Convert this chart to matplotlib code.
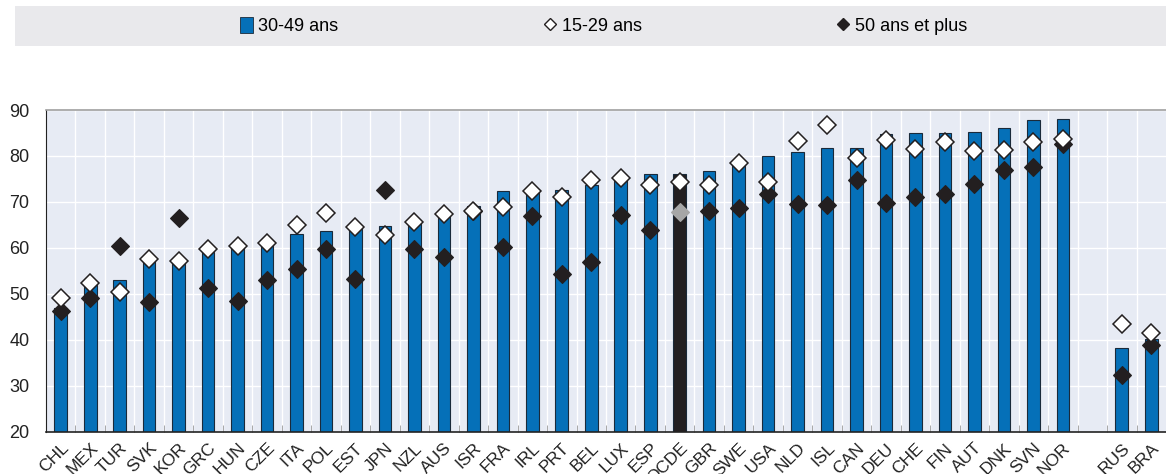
import numpy as np
import matplotlib
matplotlib.use('Agg')
import matplotlib.pyplot as plt
from matplotlib.lines import Line2D
from matplotlib.patches import Rectangle, Patch

plt.rcParams['font.family'] = ['Liberation Sans Narrow', 'Liberation Sans', 'DejaVu Sans']

countries = ['CHL', 'MEX', 'TUR', 'SVK', 'KOR', 'GRC', 'HUN', 'CZE', 'ITA', 'POL',
             'EST', 'JPN', 'NZL', 'AUS', 'ISR', 'FRA', 'IRL', 'PRT', 'BEL', 'LUX',
             'ESP', 'OCDE', 'GBR', 'SWE', 'USA', 'NLD', 'ISL', 'CAN', 'DEU', 'CHE',
             'FIN', 'AUT', 'DNK', 'SVN', 'NOR', '', 'RUS', 'BRA']
age_30_49 = [47.0, 52.0, 53.1, 57.6, 57.1, 59.2, 59.9, 60.8, 63.1, 63.8,
             64.4, 64.7, 65.5, 67.3, 69.1, 72.3, 72.7, 72.7, 73.8, 75.2,
             76.0, 76.0, 76.7, 78.2, 79.9, 80.8, 81.8, 81.8, 84.8, 84.9,
             85.1, 85.2, 86.0, 87.9, 88.1, np.nan, 38.3, 40.3]
age_15_29 = [49.2, 52.4, 50.4, 57.7, 57.2, 59.7, 60.5, 61.0, 65.1, 67.6,
             64.5, 62.9, 65.6, 67.4, 68.0, 69.0, 72.5, 71.1, 74.8, 75.2,
             73.8, 74.4, 73.6, 78.4, 74.3, 83.3, 86.8, 79.6, 83.4, 81.5,
             83.0, 81.0, 81.4, 83.1, 83.7, np.nan, 43.5, 41.6]
age_50_plus = [46.4, 49.2, 60.5, 48.2, 66.6, 51.2, 48.4, 53.1, 55.4, 59.8,
               53.2, 72.7, 59.7, 58.1, 68.0, 60.3, 66.9, 54.4, 56.9, 67.2,
               63.9, 67.9, 68.0, 68.8, 71.8, 69.6, 69.3, 74.8, 69.8, 71.1,
               71.8, 73.9, 76.9, 77.7, 82.7, np.nan, 32.3, 38.9]

BLUE = '#0570b8'
x = np.arange(len(countries))
oecd = countries.index('OCDE')
bar_colors = [BLUE] * len(countries)
bar_colors[oecd] = '#231f20'
old_colors = ['#231f20'] * len(countries)
old_colors[oecd] = '#a6a6a6'

fig = plt.figure(figsize=(11.66, 4.74), dpi=100)
ax = fig.add_axes([46 / 1166, 42 / 474, 1 - 46 / 1166, 322 / 474])

# legend band
fig.patches.append(Rectangle((15 / 1166, 1 - 46 / 474), 1 - 15 / 1166, 40 / 474,
                             transform=fig.transFigure, facecolor='#e9e9ec',
                             edgecolor='none', zorder=0))

ax.set_facecolor('#e7ebf4')
ax.bar(x, np.nan_to_num(age_30_49, nan=0), width=0.43, color=bar_colors,
       edgecolor='#1a2a3a', linewidth=0.8, zorder=2)
for xi, v, c in zip(x, age_50_plus, old_colors):
    ax.plot(xi, v, 'D', ms=9.5, mfc=c, mec='#231f20' if c != '#a6a6a6' else '#a6a6a6',
            mew=0.8, zorder=3)
ax.plot(x, age_15_29, 'D', ms=9.5, mfc='white', mec='#231f20', mew=1.1, ls='none', zorder=4)

ax.set_xlim(-0.5, len(countries) - 0.5)
ax.set_ylim(20, 90)
ax.set_yticks(np.arange(20, 91, 10))
ax.grid(axis='y', color='white', linewidth=1.0, zorder=1)
ax.set_xticks(x)
ax.set_xticklabels(countries, rotation=45, ha='right', rotation_mode='anchor',
                   fontsize=12.5, color='#222222')
ax.set_xticks(np.arange(0.5, len(countries) - 0.5, 1), minor=True)
ax.tick_params(axis='x', which='major', length=0, pad=6)
ax.tick_params(axis='x', which='minor', direction='in', length=5, color='#999999')
ax.grid(axis='x', which='minor', color='white', linewidth=1.0, zorder=1)
ax.tick_params(axis='y', length=0, pad=12, labelsize=13, labelcolor='#222222')

ax.spines['right'].set_visible(False)
ax.spines['top'].set_color('#a0a0a0')
ax.spines['top'].set_linewidth(1.2)
ax.spines['left'].set_color('#222222')
ax.spines['bottom'].set_color('#222222')
ax.spines['bottom'].set_linewidth(1.2)

handles = [
    (Patch(facecolor=BLUE, edgecolor='#1a2a3a', linewidth=0.6), '30-49 ans', 240),
    (Line2D([], [], marker='D', ms=6.5, mfc='white', mec='#231f20', ls='none'), '15-29 ans', 544),
    (Line2D([], [], marker='D', ms=6.5, mfc='#231f20', mec='#231f20', ls='none'), '50 ans et plus', 837),
]
for h, lab, px in handles:
    fig.legend([h], [lab], loc='center left', bbox_to_anchor=(px / 1166, 1 - 26 / 474),
               frameon=False, fontsize=13, handlelength=0.7, handleheight=1.0,
               handletextpad=0.3, borderpad=0, borderaxespad=0)

fig.savefig('out.png', dpi=100)
